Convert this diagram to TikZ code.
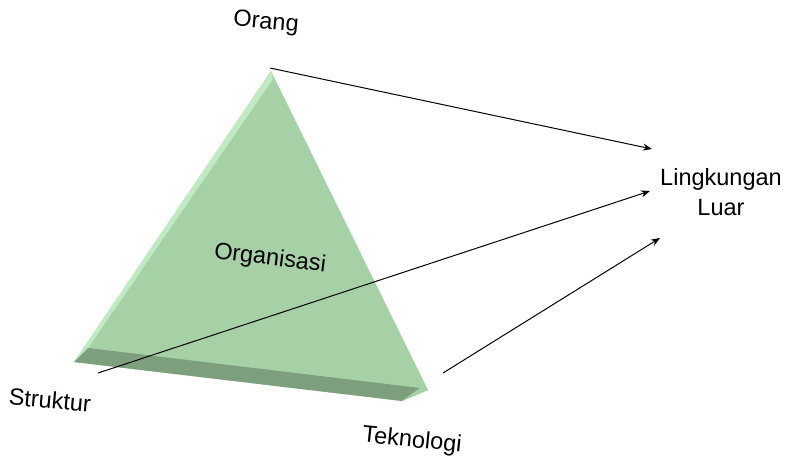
\documentclass[tikz,border=0pt]{standalone}
\usepackage{fontspec}
\setmainfont{Liberation Sans}
\usetikzlibrary{arrows.meta}
\definecolor{faceGreen}{RGB}{166,209,167}
\definecolor{bandGreen}{RGB}{126,159,126}
\definecolor{edgeGreen}{RGB}{192,234,194}
\tikzset{
  lbl/.style={font=\fontsize{23.5}{30}\selectfont, inner sep=0pt, align=center},
  link/.style={line width=1pt, -{Stealth[length=9pt,width=7pt]}}
}
\begin{document}
\begin{tikzpicture}[x=1pt,y=-1pt]
\useasboundingbox (0,0) rectangle (787,460);
% extruded triangle: front face, lit left edge, darker bottom band
\fill[faceGreen] (271,71) -- (428,390) -- (402,401) -- (74,362) -- cycle;
\fill[edgeGreen] (74,362) -- (271,71) -- (273,79) -- (88,348) -- cycle;
\fill[bandGreen] (74,362) -- (88,348) -- (420,388) -- (402,401) -- cycle;
\fill[faceGreen] (402,401) -- (420,388) -- (428,390) -- cycle;

\node[lbl, rotate=-7] (org) at (270,259) {Organisasi};
\node[lbl, rotate=-5] (orang) at (266,23) {Orang};
\node[lbl] (luar) at (721,192) {Lingkungan\\Luar};
\node[lbl, rotate=-5] (struktur) at (50,400) {Struktur};
\node[lbl, rotate=-6] (tek) at (412,441) {Teknologi};

\coordinate (orangS) at (270,68);
\coordinate (strukturS) at (98,373);
\coordinate (tekS) at (443,373);
\coordinate (luarA) at (652,149);
\coordinate (luarB) at (650,191);
\coordinate (luarC) at (660,238);

\draw[link] (orangS) -- (luarA);
\draw[link] (strukturS) -- (luarB);
\draw[link] (tekS) -- (luarC);
\end{tikzpicture}
\end{document}
